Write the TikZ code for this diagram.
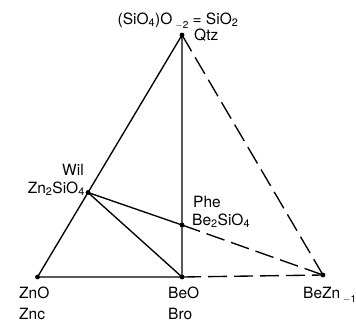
\documentclass[tikz,border=0pt]{standalone}
\usepackage{fontspec}
\setmainfont{TeX Gyre Heros}
\newcommand{\lowsub}[1]{\raisebox{-4.5pt}{\fontsize{10}{12}\selectfont #1}}
\begin{document}
\begin{tikzpicture}[x=1pt,y=-1pt,
  pt/.style={circle,fill=black,inner sep=0pt,minimum size=4.8pt},
  lbl/.style={inner sep=0pt,font=\fontsize{15.5}{18}\selectfont,anchor=base west},
  solidl/.style={line width=1.35pt},
  dashl/.style={line width=1.35pt,dash pattern=on 19pt off 7pt}]
\useasboundingbox (0,0) rectangle (356,322);
\node[pt] (qtz) at (182,35) {};
\node[pt] (zno) at (37.5,277) {};
\node[pt] (beo) at (182,277) {};
\node[pt] (bezn) at (323,275) {};
\node[pt] (wil) at (88,192.5) {};
\node[pt] (phe) at (182,225) {};
\draw[solidl] (qtz.center) -- (wil.center) -- (zno.center) -- (beo.center) -- (phe.center) -- (qtz.center);
\draw[solidl] (wil.center) -- (phe.center);
\draw[solidl] (wil.center) -- (beo.center);
\draw[dashl] (qtz.center) -- (bezn.center);
\draw[dashl] (beo.center) -- (bezn.center);
\draw[dashl] (phe.center) -- (bezn.center);
\node[lbl,anchor=base] (top) at (178,24) {(SiO\textsubscript{4})O\,\lowsub{$-$2} = SiO\textsubscript{2}};
\node[lbl] (qtzl) at (194,40) {Qtz};
\node[lbl] (will) at (62,175) {Wil};
\node[lbl,anchor=base east] (wilf) at (85,193) {Zn\textsubscript{2}SiO\textsubscript{4}};
\node[lbl] (phel) at (193,207) {Phe};
\node[lbl] (phef) at (192,225) {Be\textsubscript{2}SiO\textsubscript{4}};
\node[lbl] (znol) at (19,298) {ZnO};
\node[lbl] (zncl) at (19,319) {Znc};
\node[lbl] (beol) at (168,298) {BeO};
\node[lbl] (brol) at (168,319) {Bro};
\node[lbl] (beznl) at (303,298) {BeZn\,\lowsub{$-$1}};
\end{tikzpicture}
\end{document}
